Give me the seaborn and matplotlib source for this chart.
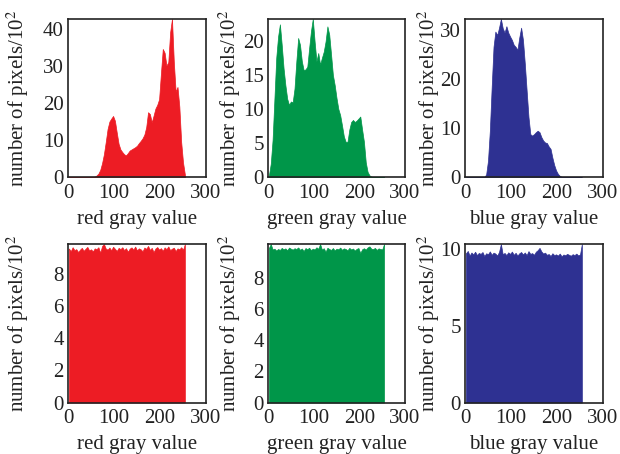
import numpy as np
import matplotlib
matplotlib.use("Agg")
import matplotlib.pyplot as plt
import seaborn as sns

# ---------------- data (values in units of 10^2 pixels) ----------------
gray_level = list(range(2, 256, 4))          # bin centres, bin width 4
bin_edges = list(range(0, 260, 4))

red_plain = [0, 0, 0, 0, 0, 0, 0, 0,
             0, 0, 0, 0, 0, 0.05, 0.2, 0.5,
             1.0, 2.0, 3.8, 6.2, 9.5, 13.0, 15.0, 15.8,
             16.5, 15.2, 12.0, 9.0, 7.5, 6.8, 6.2, 5.9,
             6.5, 7.2, 7.5, 7.8, 8.1, 8.5, 9.2, 9.8,
             10.5, 11.5, 13.5, 17.5, 17.0, 14.8, 16.6, 18.5,
             19.5, 21.0, 28.0, 34.5, 33.5, 30.0, 31.0, 39.0,
             42.6, 31.0, 23.0, 24.3, 19.0, 9.5, 4.0, 0.8]

green_plain = [0.3, 2.0, 5.5, 11.5, 17.5, 20.6, 22.4, 19.4,
               16.0, 13.5, 11.5, 10.6, 11.1, 11.0, 13.0, 17.0,
               20.4, 19.4, 17.0, 15.7, 15.8, 16.2, 18.9, 21.4,
               23.2, 19.9, 17.0, 18.2, 16.5, 17.5, 18.4, 19.9,
               22.1, 20.9, 18.0, 15.0, 13.5, 11.6, 10.0, 9.1,
               7.6, 6.0, 5.2, 5.2, 7.0, 8.1, 8.4, 8.1,
               8.3, 8.6, 8.9, 7.0, 5.2, 2.2, 0.8, 0.3,
               0.1, 0.05, 0.05, 0.05, 0.05, 0.05, 0.05, 0.05]

blue_plain = [0, 0, 0.05, 0.05, 0.05, 0.05, 0.05, 0.05,
              0.05, 0.05, 0.05, 0.6, 3.4, 9.5, 18.4, 26.6,
              29.7, 29.0, 30.5, 32.3, 30.4, 29.5, 30.8, 29.5,
              28.7, 28.0, 27.0, 26.6, 26.0, 28.5, 30.5, 28.0,
              23.2, 17.7, 12.3, 8.8, 8.5, 8.8, 9.2, 9.5,
              9.2, 8.2, 7.5, 7.1, 7.0, 6.3, 5.8, 4.0,
              2.5, 1.4, 0.7, 0.3, 0.1, 0.05, 0.05, 0.05,
              0.05, 0, 0, 0, 0, 0, 0, 0]

red_cipher = [9.62, 9.45, 9.70, 9.52, 9.58, 9.40, 9.55, 9.66,
              9.48, 9.60, 9.72, 9.50, 9.57, 9.44, 9.63, 9.58,
              9.70, 9.36, 9.77, 9.90, 9.62, 9.55, 9.68, 9.51,
              9.73, 9.60, 9.47, 9.66, 9.58, 9.70, 9.52, 9.64,
              9.42, 9.61, 9.69, 9.55, 9.74, 9.50, 9.63, 9.57,
              9.45, 9.68, 9.60, 9.78, 9.53, 9.66, 9.40, 9.62,
              9.71, 9.55, 9.64, 9.48, 9.69, 9.58, 9.75, 9.52,
              9.61, 9.67, 9.46, 9.63, 9.57, 9.70, 9.54, 9.90]

green_cipher = [9.95, 10.20, 9.85, 9.90, 9.78, 9.88, 9.82, 9.95,
                9.86, 9.92, 9.80, 9.97, 9.90, 9.84, 9.93, 9.88,
                9.98, 9.83, 9.91, 9.75, 9.94, 9.87, 9.96, 9.81,
                9.90, 9.85, 9.99, 9.89, 10.20, 9.84, 9.93, 9.70,
                9.96, 9.88, 9.82, 9.94, 9.79, 9.90, 9.86, 9.97,
                9.83, 9.92, 9.88, 9.80, 9.95, 9.85, 9.91, 9.78,
                9.89, 9.94, 9.62, 9.86, 9.93, 9.84, 9.98, 10.05,
                9.90, 9.87, 9.95, 9.82, 9.92, 9.88, 9.85, 10.20]

blue_cipher = [9.70, 9.85, 9.55, 9.75, 9.62, 9.80, 9.58, 9.72,
               9.66, 9.78, 9.52, 9.70, 9.64, 9.82, 9.60, 9.74,
               9.68, 9.55, 9.79, 10.30, 9.63, 9.72, 9.58, 9.76,
               9.66, 9.81, 9.60, 9.73, 9.55, 9.70, 9.78, 9.62,
               9.75, 9.58, 9.84, 9.66, 9.71, 9.60, 9.80, 9.90,
               10.05, 9.82, 9.68, 9.74, 9.60, 9.65, 9.52, 9.70,
               9.58, 9.63, 9.55, 9.68, 9.50, 9.62, 9.57, 9.66,
               9.60, 9.54, 9.64, 9.58, 9.68, 9.56, 9.62, 10.30]

x_ticks = [0, 100, 200, 300]
x_labels = ["red gray value", "green gray value", "blue gray value"]
y_label = "number of pixels/10$^{2}$"

# ---------------- style ----------------
sns.set_style("white")
plt.rcParams["font.family"] = ["Liberation Serif", "DejaVu Serif"]
plt.rcParams["mathtext.fontset"] = "stix"

RED, GREEN, BLUE = "#ED1C24", "#009649", "#2E3192"
FS = 15

panels = [
    # data, colour, xlabel, yticks, axes rect, ylabel x (axes fraction)
    (red_plain, RED, x_labels[0], [0, 10, 20, 30, 40], [0.1097, 0.6094, 0.2226, 0.3491], -0.27),
    (green_plain, GREEN, x_labels[1], [0, 5, 10, 15, 20], [0.4323, 0.6094, 0.2210, 0.3491], -0.185),
    (blue_plain, BLUE, x_labels[2], [0, 10, 20, 30], [0.7500, 0.6094, 0.2226, 0.3491], -0.17),
    (red_cipher, RED, x_labels[0], [0, 2, 4, 6, 8], [0.1097, 0.1134, 0.2226, 0.3491], -0.27),
    (green_cipher, GREEN, x_labels[1], [0, 2, 4, 6, 8], [0.4323, 0.1134, 0.2210, 0.3491], -0.18),
    (blue_cipher, BLUE, x_labels[2], [0, 5, 10], [0.7500, 0.1134, 0.2226, 0.3491], -0.17),
]

fig = plt.figure(figsize=(6.2, 4.54), dpi=100)

for vals, col, xlab, yt, rect, ylx in panels:
    ax = fig.add_axes(rect)
    sns.histplot(x=gray_level, weights=vals, bins=bin_edges, element="poly",
                 fill=True, color=col, alpha=1, linewidth=0.5, ax=ax)
    ax.set_xlim(0, 300)
    ax.set_ylim(0, max(vals))
    ax.set_xticks(x_ticks)
    ax.set_yticks(yt)
    ax.tick_params(direction="in", length=3, width=0.8, labelsize=FS,
                   colors="#222222")
    ax.tick_params(axis="x", pad=5)
    ax.tick_params(axis="y", pad=3)
    ax.set_xlabel(xlab, fontsize=FS, labelpad=5, color="#222222")
    ax.set_ylabel(y_label, fontsize=FS, color="#222222")
    ax.yaxis.set_label_coords(ylx, 0.5)
    for s in ax.spines.values():
        s.set_visible(True)
        s.set_color("#222222")
        s.set_linewidth(1.2)

fig.savefig("out.png", dpi=100)
